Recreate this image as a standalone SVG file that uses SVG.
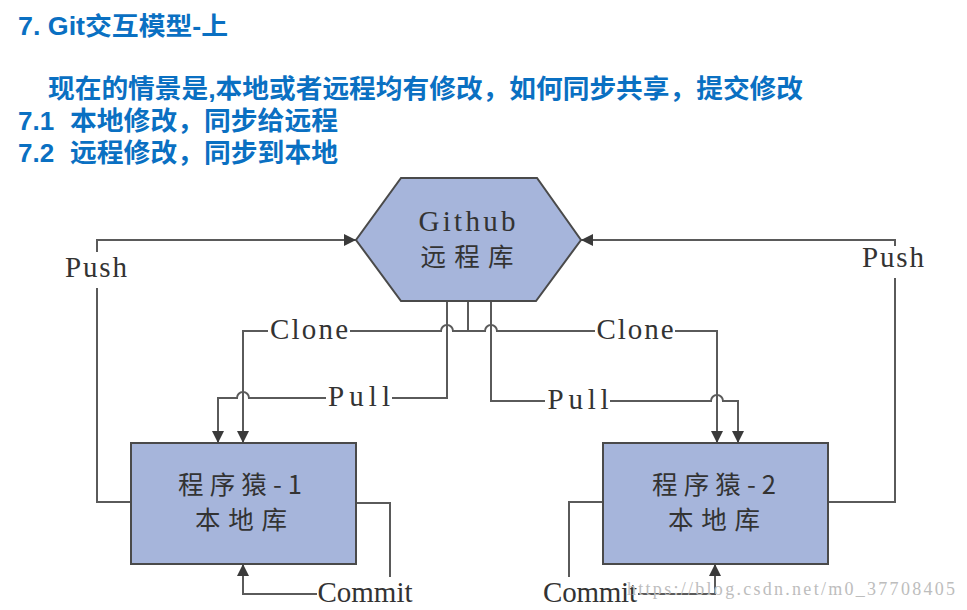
<svg xmlns="http://www.w3.org/2000/svg" width="967" height="610" viewBox="0 0 967 610">
<style>
.title{font-family:"Liberation Sans","Noto Sans CJK SC",sans-serif;font-weight:bold;fill:#0A70C2}
.node{fill:#A6B5DB;stroke:#4a4a4a;stroke-width:2}
.lbl{font-family:"Liberation Serif","Noto Sans CJK SC",serif;font-size:29px;fill:#333}
.cjk{font-family:"Noto Sans CJK SC",sans-serif;font-size:25.5px;fill:#333}
.ln{fill:none;stroke:#5a5a5a;stroke-width:2}
.arr{marker-end:url(#ah)}
.wm{font-family:"Liberation Serif",serif;font-size:18px;fill:#bdbdbd}
</style>
<defs>
<marker id="ah" viewBox="0 0 12 12" refX="12" refY="6" markerWidth="12" markerHeight="12" markerUnits="userSpaceOnUse" orient="auto">
<path d="M0,0 L12,6 L0,12 z" fill="#3a3a3a"/>
</marker>
</defs>
<rect width="967" height="610" fill="#fff"/>

<g id="header">
<text class="title" x="18" y="35" font-size="25" textLength="210" lengthAdjust="spacingAndGlyphs">7. Git交互模型-上</text>
<text class="title" x="48" y="98" font-size="26" textLength="755" lengthAdjust="spacingAndGlyphs">现在的情景是,本地或者远程均有修改，如何同步共享，提交修改</text>
<text class="title" x="18" y="130" font-size="26">7.1</text>
<text class="title" x="70" y="130" font-size="26" textLength="268" lengthAdjust="spacingAndGlyphs">本地修改，同步给远程</text>
<text class="title" x="18" y="162" font-size="26">7.2</text>
<text class="title" x="70" y="162" font-size="26" textLength="268" lengthAdjust="spacingAndGlyphs">远程修改，同步到本地</text>
</g>

<g id="connectors">
<!-- Push left -->
<path class="ln" d="M131,502 H97 V288"/>
<path class="ln arr" d="M97,252 V240 H356"/>
<text class="lbl" x="96" y="277" text-anchor="middle" textLength="62">Push</text>
<!-- Push right -->
<path class="ln" d="M828,502 H895 V278"/>
<path class="ln arr" d="M895,246 V240 H581"/>
<text class="lbl" x="893" y="267" text-anchor="middle" textLength="62">Push</text>
<!-- trunk -->
<path class="ln" d="M468,301 V331"/>
<!-- Clone left -->
<path class="ln" d="M468,331 H453 A6,6 0 0 0 441,331 H350"/>
<path class="ln arr" d="M268,331 H243 V443"/>
<text class="lbl" x="309" y="339" text-anchor="middle" textLength="78">Clone</text>
<!-- Pull left -->
<path class="ln" d="M447,301 V398 H392"/>
<path class="ln arr" d="M326,398 H249 A6,6 0 0 0 237,398 H218 V443"/>
<text class="lbl" x="359" y="406" text-anchor="middle" textLength="62">Pull</text>
<!-- Clone right -->
<path class="ln" d="M468,331 H485 A6,6 0 0 1 497,331 H595"/>
<path class="ln arr" d="M675,331 H717 V443"/>
<text class="lbl" x="635" y="339" text-anchor="middle" textLength="77">Clone</text>
<!-- Pull right -->
<path class="ln" d="M491,301 V401 H545"/>
<path class="ln arr" d="M610,401 H711 A6,6 0 0 1 723,401 H738 V443"/>
<text class="lbl" x="578" y="409" text-anchor="middle" textLength="61">Pull</text>
<!-- Commit left -->
<path class="ln" d="M356,503 H390 V577"/>
<path class="ln arr" d="M317,594 H243 V564"/>
<text class="lbl" x="365" y="602" text-anchor="middle" textLength="95">Commit</text>
<!-- Commit right -->
<path class="ln" d="M603,502 H569 V577"/>
<path class="ln arr" d="M638,594 H715 V564"/>
<text class="lbl" x="590" y="602" text-anchor="middle" textLength="94">Commit</text>
</g>

<g id="github">
<polygon class="node" points="401,178 537,178 581,240 536,301 401,301 356,240"/>
<text class="lbl" x="467" y="231" text-anchor="middle" textLength="97">Github</text>
<text class="cjk" x="467" y="266" text-anchor="middle" textLength="93">远程库</text>
</g>

<g id="dev1">
<rect class="node" x="131" y="443" width="225" height="121"/>
<text class="cjk" x="240" y="494" text-anchor="middle" textLength="124">程序猿-1</text>
<text class="cjk" x="241" y="529" text-anchor="middle" textLength="92">本地库</text>
</g>

<g id="dev2">
<rect class="node" x="603" y="443" width="225" height="121"/>
<text class="cjk" x="714" y="494" text-anchor="middle" textLength="124">程序猿-2</text>
<text class="cjk" x="714" y="529" text-anchor="middle" textLength="92">本地库</text>
</g>

<text class="wm" x="627" y="595" textLength="328">https://blog.csdn.net/m0_37708405</text>
</svg>
